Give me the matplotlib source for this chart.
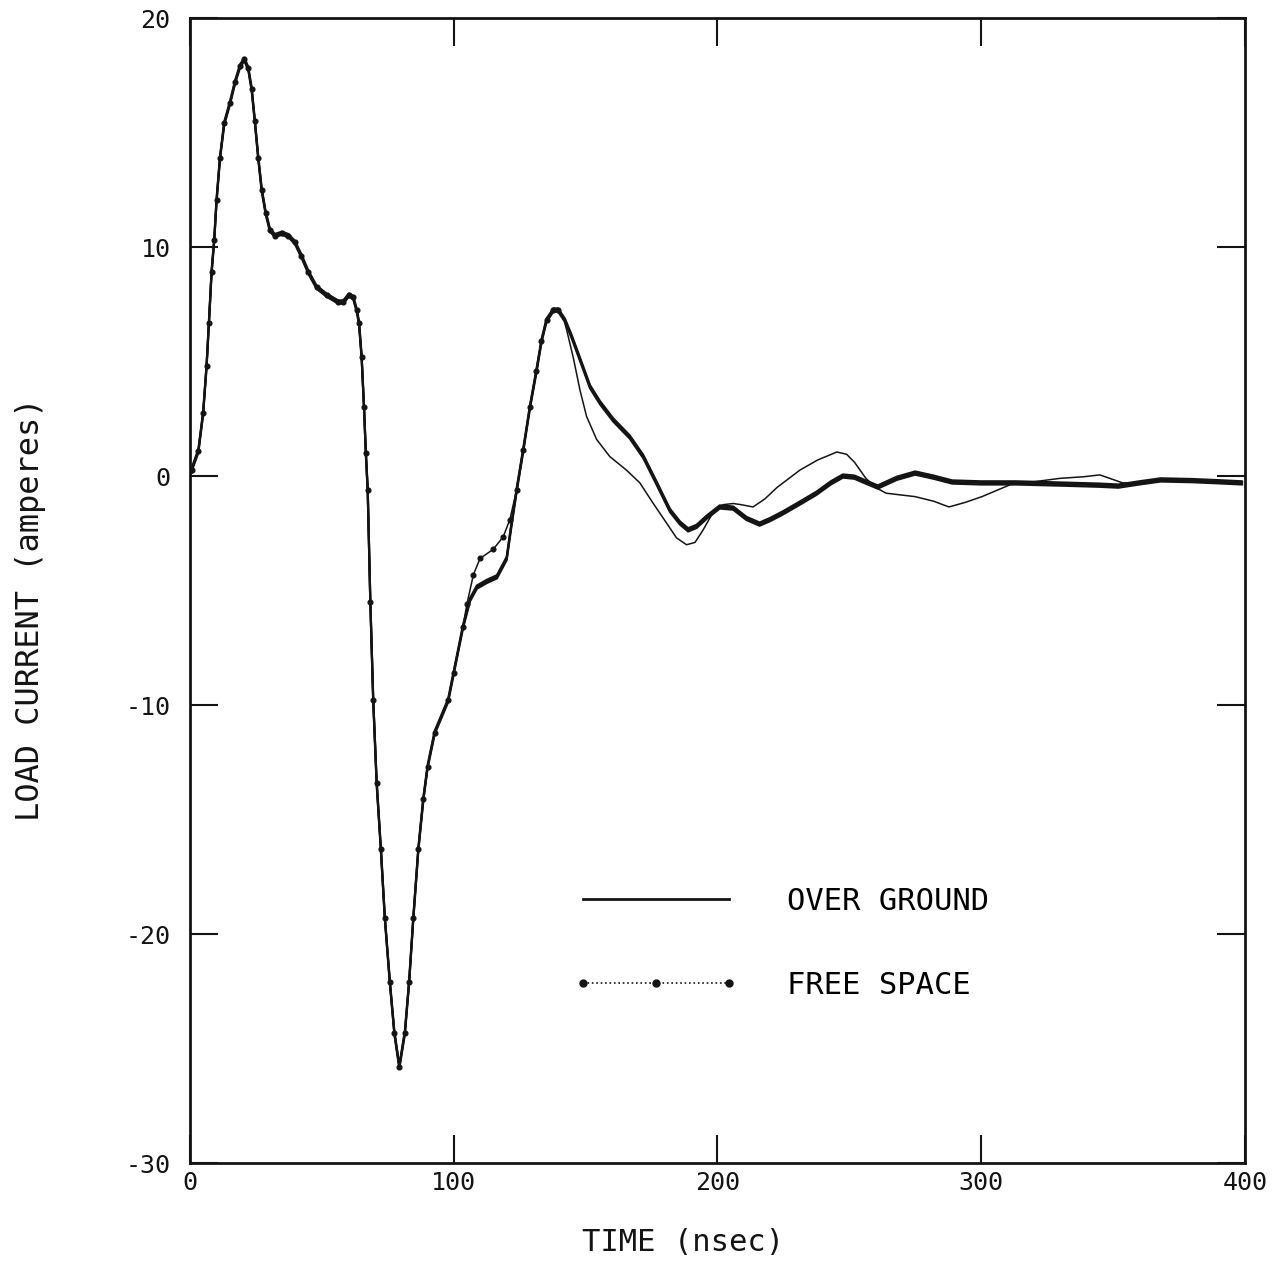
import matplotlib
matplotlib.use("Agg")
import matplotlib.pyplot as plt
from matplotlib.lines import Line2D
from matplotlib.transforms import offset_copy

# ---- data (time in nsec, current in amperes) ----
# part shared by both curves (they coincide up to ~103 ns)
t_common = [0, 0.6, 3.2, 5.0, 6.3, 7.2, 8.2, 9.2, 10.1, 11.4, 13.0, 15.2, 17.1,
            19.0, 20.6, 22.1, 23.4, 24.6, 25.9, 27.2, 28.7, 30.3, 32.2, 34.8,
            37.3, 39.8, 42.3, 44.9, 48.0, 51.8, 56.2, 58.1, 60.3, 61.9, 63.2,
            64.1, 65.1, 66.0, 66.7, 67.4, 68.4, 69.5, 70.8, 72.4, 73.9, 75.8,
            77.5, 79.4, 81.5, 83.1, 84.7, 86.6, 88.5, 90.1, 92.8, 97.9, 100,
            103.5]
i_common = [0.2, 0.26, 1.1, 2.75, 4.8, 6.7, 8.9, 10.3, 12.05, 13.9, 15.4, 16.3,
            17.2, 17.9, 18.2, 17.8, 16.9, 15.5, 13.9, 12.5, 11.5, 10.75, 10.5,
            10.6, 10.5, 10.2, 9.6, 8.9, 8.25, 7.9, 7.6, 7.6, 7.9, 7.8, 7.25, 6.7,
            5.2, 3.0, 1.0, -0.6, -5.5, -9.8, -13.4, -16.3, -19.3, -22.1, -24.3,
            -25.8, -24.3, -22.1, -19.3, -16.3, -14.1, -12.7, -11.2, -9.8, -8.6,
            -6.6]

# OVER GROUND after 103.5 ns
t_over_tail = [106.2, 108.8, 112.6, 116.4, 120.1, 122, 123.9, 126.4, 128.9, 131.4,
               133.3, 135.2, 137.8, 139.6, 142.2, 144.7, 147.9, 151.7, 155.5,
               160.5, 166.8, 171.9, 176.9, 182, 185.8, 188.9, 192.1, 195.9, 200.9,
               206, 211, 216, 220, 225, 231, 237.6, 243, 247.6, 252, 256, 260.8,
               268, 275, 282, 289, 300, 313, 330, 345, 352, 360, 368, 380, 390,
               399]
i_over_tail = [-5.4, -4.85, -4.6, -4.4, -3.6, -2.05, -0.6, 1.15, 3.0, 4.6, 5.9,
               6.8, 7.25, 7.25, 6.8, 6.1, 5.1, 3.9, 3.2, 2.45, 1.7, 0.85, -0.3,
               -1.5, -2.05, -2.35, -2.2, -1.8, -1.35, -1.4, -1.85, -2.1, -1.9,
               -1.6, -1.2, -0.75, -0.3, 0.0, -0.05, -0.25, -0.48, -0.1, 0.13,
               -0.05, -0.26, -0.3, -0.3, -0.35, -0.4, -0.44, -0.3, -0.17, -0.2,
               -0.25, -0.3]

# FREE SPACE after 103.5 ns
t_free_tail = [105, 107.5, 110, 115, 118.8, 121.3, 123.9, 126.4, 128.9, 131.4,
               133.3, 135.2, 137.8, 139.6, 141.5, 142.8, 145.3, 147.9, 150.4, 154.2,
               159.2, 165.6, 170.6, 175.7, 180.7, 184.5, 188.3, 191.5, 194.6, 198.3,
               202.2, 206, 209, 213.5, 218, 222.6, 231.3, 238, 245.3, 249,
               252, 256.3, 260, 264, 275, 282, 287.8, 294, 300.3, 311,
               320, 330, 339, 345, 353.7, 360, 368, 380, 390, 399]
i_free_tail = [-5.6, -4.3, -3.6, -3.2, -2.65, -1.9, -0.6, 1.15, 3.0, 4.6,
               5.9, 6.8, 7.25, 7.25, 6.95, 6.4, 5.2, 3.75, 2.6, 1.6,
               0.85, 0.25, -0.3, -1.2, -2.05, -2.7, -3.0, -2.9, -2.35, -1.6,
               -1.25, -1.2, -1.25, -1.35, -1.0, -0.5, 0.26, 0.7, 1.05, 0.95,
               0.6, -0.1, -0.5, -0.75, -0.9, -1.1, -1.35, -1.15, -0.9, -0.38,
               -0.25, -0.1, -0.03, 0.05, -0.3, -0.3, -0.17, -0.2, -0.25, -0.3]

t_over = t_common + t_over_tail
i_over = i_common + i_over_tail
t_free = t_common + t_free_tail
i_free = i_common + i_free_tail

x_ticks = [0, 100, 200, 300, 400]
y_ticks = [-30, -20, -10, 0, 10, 20]
series_labels = ["OVER GROUND", "FREE SPACE"]

INK = '#141414'
plt.rcParams['font.family'] = ['DejaVu Sans Mono', 'DejaVu Sans']
plt.rcParams['axes.unicode_minus'] = False

fig = plt.figure(figsize=(12.86, 12.87), dpi=100)
ax = fig.add_axes([0.1477, 0.0963, 0.8203, 0.8897])

# pen-plotter style heavy line: several strokes offset vertically
for dy in (-1.6, 0.0, 1.6):
    tr = offset_copy(ax.transData, fig=fig, x=0, y=dy, units='dots')
    ax.plot(t_over, i_over, color=INK, lw=1.6, solid_joinstyle='round',
            solid_capstyle='round', transform=tr)
ax.plot(t_free, i_free, color=INK, lw=1.1, linestyle='-',
        marker='o', ms=3.4, markevery=slice(0, 72))

ax.set_xlim(0, 400)
ax.set_ylim(-30, 20)
ax.set_xticks(x_ticks)
ax.set_yticks(y_ticks)
ax.tick_params(direction='in', length=20, width=1.5, labelsize=18,
               top=True, right=True, colors=INK)
ax.tick_params(axis='x', pad=6)
ax.tick_params(axis='y', pad=14)
for s in ax.spines.values():
    s.set_linewidth(2)
    s.set_color(INK)

ax.set_xlabel("TIME (nsec)", fontsize=22, color=INK)
ax.xaxis.set_label_coords(0.467, -0.057)
ax.set_ylabel("LOAD CURRENT (amperes)", fontsize=23, color=INK)
ax.yaxis.set_label_coords(-0.136, 0.484)

h1 = Line2D([], [], color=INK, lw=2)
h2 = Line2D([], [], color=INK, lw=1.2, linestyle=':', marker='o', ms=5)
leg = ax.legend([h1, h2], series_labels, loc='upper left',
                bbox_to_anchor=(0.352, 0.252), frameon=False, fontsize=22,
                handlelength=5.4, handletextpad=1.6, labelspacing=1.8,
                numpoints=3, borderaxespad=0)
fig.savefig("out.png", dpi=100, facecolor='white')
